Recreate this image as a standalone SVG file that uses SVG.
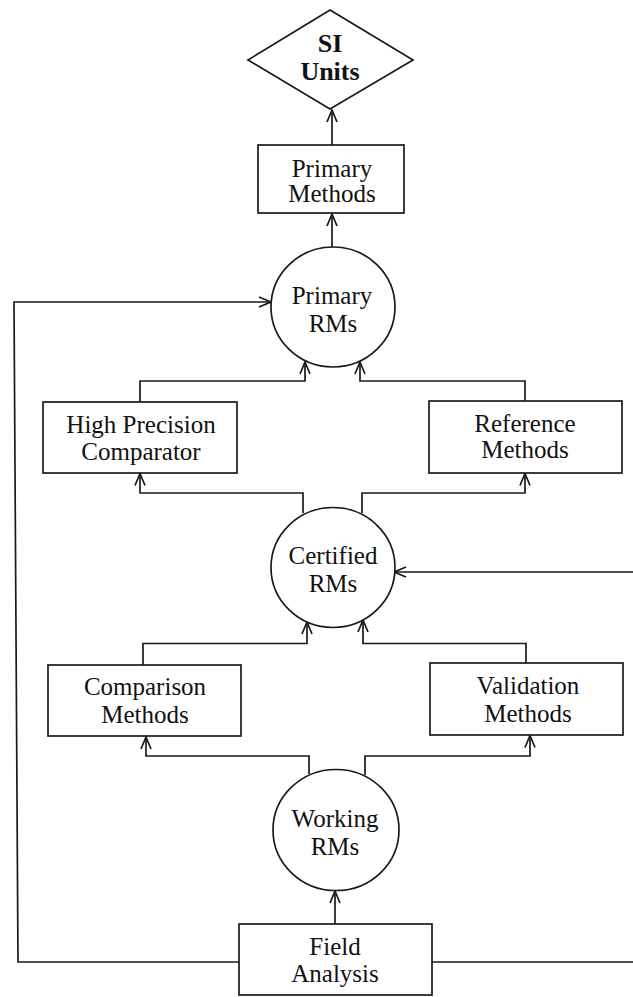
<svg xmlns="http://www.w3.org/2000/svg" width="633" height="997" viewBox="0 0 633 997">
  <style>
    .shape { fill: #fff; stroke: #1a1a1a; stroke-width: 1.7; }
    .wire { fill: none; stroke: #1a1a1a; stroke-width: 1.7; marker-end: url(#head); }
    .wire-plain { fill: none; stroke: #1a1a1a; stroke-width: 1.7; }
    .label { font-family: "Liberation Serif", "Times New Roman", serif; font-size: 25px; fill: #111; text-anchor: middle; }
    .title { font-family: "Liberation Serif", "Times New Roman", serif; font-size: 26px; font-weight: bold; fill: #111; text-anchor: middle; }
  </style>
  <defs>
    <marker id="head" markerUnits="userSpaceOnUse" markerWidth="14" markerHeight="12" viewBox="0 0 14 12" refX="13" refY="6" orient="auto">
      <path d="M1,1 L13,6 L1,11" fill="none" stroke="#1a1a1a" stroke-width="1.7"/>
    </marker>
  </defs>

  <rect width="633" height="997" fill="#fff"/>

  <!-- connectors -->
  <g id="connectors">
    <path class="wire" d="M332,145 L332,110"/>
    <path class="wire" d="M332,247 L332,214"/>
    <path class="wire" d="M140,402 L140,381 L305,381 L305,362"/>
    <path class="wire" d="M525,401 L525,381 L360,381 L360,362"/>
    <path class="wire" d="M303,513 L303,493 L140,493 L140,473.5"/>
    <path class="wire" d="M362,513 L362,493 L525,493 L525,473.5"/>
    <path class="wire" d="M143,665 L143,643.5 L307,643.5 L307,622"/>
    <path class="wire" d="M526,663 L526,643.5 L363,643.5 L363,620"/>
    <path class="wire" d="M309,774 L309,756 L146,756 L146,737"/>
    <path class="wire" d="M365,775 L365,756 L530,756 L530,735.5"/>
    <path class="wire" d="M335,924 L335,891"/>
    <path class="wire" d="M239,962 L18,962 L14,302 L271,302"/>
    <path class="wire" d="M432,962 L645,962 L645,572 L394,572"/>
  </g>

  <!-- nodes -->
  <g id="si-units">
    <polygon class="shape" points="330,10 413,60 330,109 248,60"/>
    <text class="title" x="330" y="52">SI</text>
    <text class="title" x="330" y="80">Units</text>
  </g>

  <g id="primary-methods">
    <rect class="shape" x="258" y="145" width="146" height="68"/>
    <text class="label" x="332" y="177">Primary</text>
    <text class="label" x="332" y="202">Methods</text>
  </g>

  <g id="primary-rms">
    <ellipse class="shape" cx="333" cy="307" rx="62" ry="60"/>
    <text class="label" x="332" y="304">Primary</text>
    <text class="label" x="333" y="332">RMs</text>
  </g>

  <g id="high-precision-comparator">
    <rect class="shape" x="43" y="402" width="194" height="71"/>
    <text class="label" x="141" y="433">High Precision</text>
    <text class="label" x="141" y="460">Comparator</text>
  </g>

  <g id="reference-methods">
    <rect class="shape" x="429" y="401" width="193" height="72"/>
    <text class="label" x="525" y="432">Reference</text>
    <text class="label" x="525" y="458">Methods</text>
  </g>

  <g id="certified-rms">
    <ellipse class="shape" cx="333" cy="567.5" rx="62" ry="60"/>
    <text class="label" x="333" y="564">Certified</text>
    <text class="label" x="333" y="592">RMs</text>
  </g>

  <g id="comparison-methods">
    <rect class="shape" x="48" y="665" width="193" height="71"/>
    <text class="label" x="145" y="695">Comparison</text>
    <text class="label" x="145" y="723">Methods</text>
  </g>

  <g id="validation-methods">
    <rect class="shape" x="430" y="663" width="193" height="72"/>
    <text class="label" x="528" y="694">Validation</text>
    <text class="label" x="528" y="722">Methods</text>
  </g>

  <g id="working-rms">
    <ellipse class="shape" cx="336" cy="830" rx="63" ry="60.5"/>
    <text class="label" x="335" y="827">Working</text>
    <text class="label" x="335" y="855">RMs</text>
  </g>

  <g id="field-analysis">
    <rect class="shape" x="239" y="924" width="193" height="71"/>
    <text class="label" x="335" y="955">Field</text>
    <text class="label" x="335" y="982">Analysis</text>
  </g>
</svg>
